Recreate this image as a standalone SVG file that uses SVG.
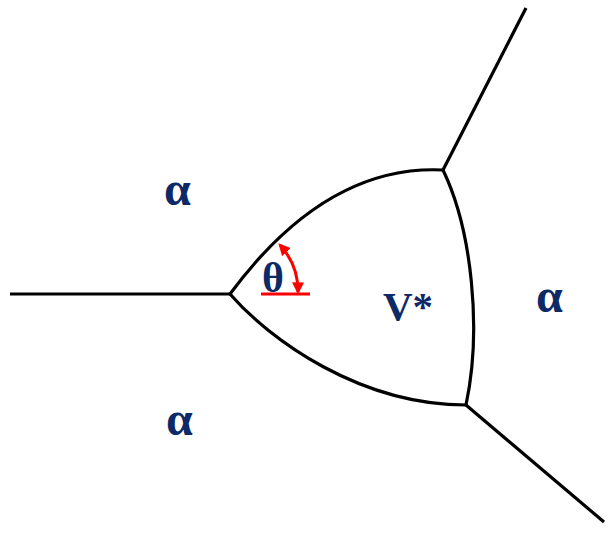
<svg xmlns="http://www.w3.org/2000/svg" width="608" height="536" viewBox="0 0 608 536">
<defs>
<style>
.b{fill:none;stroke:#000;stroke-width:3.2}
.r{fill:none;stroke:#ff0000;stroke-width:3}
.t{font-family:"Liberation Serif",serif;font-weight:bold;fill:#0d2a66}
</style>
<marker id="ah" viewBox="0 0 10 10" refX="8" refY="5" markerWidth="4" markerHeight="4" orient="auto-start-reverse"><path d="M0,0L10,5L0,10z" fill="#ff0000"/></marker>
</defs>
<rect width="608" height="536" fill="#fff"/>
<g id="connectors">
<path class="b" d="M10,294 L230,294"/>
<path class="b" d="M443,170 L526,8"/>
<path class="b" d="M466,405 L604,522"/>
<path class="b" d="M230,294 C270,240 340,165 443,170"/>
<path class="b" d="M230,294 C270,340 360,405 466,405"/>
<path class="b" d="M443,170 C472,230 482,330 466,405"/>
</g>
<g id="angle">
<path class="r" d="M261,294 L310,294"/>
<path class="r" d="M280,245 A69,69 0 0 1 298,292" marker-start="url(#ah)" marker-end="url(#ah)"/>
<text class="t" x="262" y="292" font-size="42">θ</text>
</g>
<g id="labels">
<text class="t" x="383" y="320" font-size="41">V*</text>
<text class="t" x="164" y="205" font-size="48">α</text>
<text class="t" x="166" y="435" font-size="48">α</text>
<text class="t" x="536" y="312" font-size="48">α</text>
</g>
</svg>
